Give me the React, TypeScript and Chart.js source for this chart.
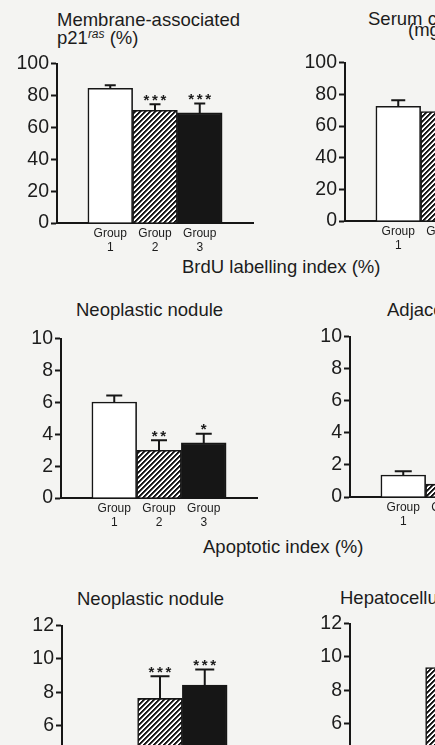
import React, { useEffect, useRef } from 'react';
import { Chart, registerables } from 'chart.js';

Chart.register(...registerables);
Chart.defaults.font.family = "'Liberation Sans', Arial, Helvetica, sans-serif";

// ---------- data ----------
const groupNames = ['1', '2', '3'];
const groupPositions = [1, 2, 3];

const membraneP21 = [84.6, 70.8, 69.1];
const membraneP21Err = [1.9, 3.8, 5.9];
const membraneP21Stars = ['', '***', '***'];

const serumCholesterol = [72.5, 69.2, 66.0];
const serumCholesterolErr = [3.8, 3.0, 3.5];
const serumCholesterolStars = ['', '', ''];

const brduNodule = [6.02, 3.0, 3.46];
const brduNoduleErr = [0.42, 0.63, 0.58];
const brduNoduleStars = ['', '**', '*'];

const brduAdjacent = [1.37, 0.8, 0.75];
const brduAdjacentErr = [0.23, 0.25, 0.2];
const brduAdjacentStars = ['', '***', '***'];

const apoptoticNodule = [2.0, 7.62, 8.42];
const apoptoticNoduleErr = [0.5, 1.34, 0.94];
const apoptoticNoduleStars = ['', '***', '***'];

const apoptoticHcc = [2.5, 9.36, 10.1];
const apoptoticHccErr = [0.6, 1.1, 1.0];
const apoptoticHccStars = ['', '***', '***'];

const ticks100 = [0, 20, 40, 60, 80, 100];
const ticks10 = [0, 2, 4, 6, 8, 10];
const ticks12 = [0, 2, 4, 6, 8, 10, 12];

const INK = '#161616';
const TEXT = '#1c1c1c';
const PAPER = '#f4f4f2';
const FONT = "'Liberation Sans', Arial, Helvetica, sans-serif";

function makeHatch(): CanvasPattern | string {
  const s = 5;
  const c = document.createElement('canvas');
  c.width = s;
  c.height = s;
  const g = c.getContext('2d');
  if (!g) return '#888';
  for (let y = 0; y < s; y++) {
    for (let x = 0; x < s; x++) {
      const k = (x + y) % s;
      g.fillStyle = k < 2 ? INK : k === 2 ? '#6a6a6a' : '#ffffff';
      g.fillRect(x, y, 1, 1);
    }
  }
  const p = g.createPattern(c, 'repeat');
  return p || '#888';
}

type PanelProps = {
  left: number;
  top: number;
  height: number;
  values: number[];
  errs: number[];
  stars: string[];
  yMax: number;
  yTicks: number[];
  capWidth: number;
};

const WIDTH = 258;
const Y_AXIS_W = 57;
const X_AXIS_H = 32;
const PAD_TOP = 13;

function Panel(props: PanelProps) {
  const ref = useRef<HTMLCanvasElement>(null);
  useEffect(() => {
    const canvas = ref.current;
    if (!canvas) return;
    const hatch = makeHatch();
    const errorPlugin = {
      id: 'errorBars',
      afterDatasetsDraw(chart: any) {
        const ctx = chart.ctx;
        const xs = chart.scales.x;
        const ys = chart.scales.y;
        ctx.save();
        ctx.strokeStyle = INK;
        ctx.fillStyle = TEXT;
        ctx.lineWidth = 2;
        props.values.forEach((v, i) => {
          const x = xs.getPixelForValue(groupPositions[i]);
          const y0 = ys.getPixelForValue(v);
          const y1 = ys.getPixelForValue(v + props.errs[i]);
          ctx.beginPath();
          ctx.moveTo(x, y0);
          ctx.lineTo(x, y1);
          ctx.moveTo(x - props.capWidth / 2, y1);
          ctx.lineTo(x + props.capWidth / 2, y1);
          ctx.stroke();
          const st = props.stars[i];
          if (st) {
            ctx.font = `bold 15px ${FONT}`;
            ctx.textAlign = 'center';
            ctx.textBaseline = 'alphabetic';
            const n = st.length;
            for (let k = 0; k < n; k++) {
              const sx = x + (k - (n - 1) / 2) * 8.5;
              ctx.fillText('*', sx, y1 + 0.5);
            }
          }
        });
        ctx.restore();
      },
    };
    const chart = new Chart(canvas, {
      type: 'bar',
      data: {
        datasets: [
          {
            data: props.values.map((v, i) => ({ x: groupPositions[i], y: v })),
            backgroundColor: ['#ffffff', hatch as any, INK],
            borderColor: INK,
            borderWidth: 1.6,
            barPercentage: 1,
            categoryPercentage: 1,
          },
        ],
      },
      options: {
        animation: false,
        responsive: false,
        events: [],
        layout: { padding: { top: PAD_TOP, right: 5, left: 0, bottom: 0 } },
        plugins: {
          legend: { display: false },
          tooltip: { enabled: false },
          title: { display: false },
        },
        scales: {
          x: {
            type: 'linear',
            min: -0.19,
            max: 4.19,
            offset: false,
            afterBuildTicks: (ax: any) => {
              ax.ticks = groupPositions.map((v) => ({ value: v }));
            },
            afterFit: (ax: any) => {
              ax.height = X_AXIS_H;
            },
            ticks: {
              callback: (_v: any, idx: number) => ['Group', groupNames[idx]],
              font: { size: 12 },
              color: TEXT,
              padding: 3,
              maxRotation: 0,
              autoSkip: false,
            },
            grid: { display: false, drawTicks: false, offset: false },
            border: { display: true, width: 2, color: INK },
          },
          y: {
            type: 'linear',
            min: 0,
            max: props.yMax,
            afterBuildTicks: (ax: any) => {
              ax.ticks = props.yTicks.map((v) => ({ value: v }));
            },
            afterFit: (ax: any) => {
              ax.width = Y_AXIS_W;
            },
            ticks: { font: { size: 19.5 }, color: TEXT, padding: 2 },
            grid: {
              drawOnChartArea: false,
              drawTicks: true,
              tickLength: 6,
              tickWidth: 2,
              color: INK,
            },
            border: { display: true, width: 2, color: INK },
          },
        },
      } as any,
      plugins: [errorPlugin],
    });
    return () => chart.destroy();
  }, []);
  return (
    <canvas
      ref={ref}
      width={WIDTH}
      height={props.height}
      style={{ position: 'absolute', left: props.left, top: props.top, width: WIDTH, height: props.height }}
    />
  );
}

const textStyle: React.CSSProperties = {
  position: 'absolute',
  fontFamily: FONT,
  fontSize: 18.5,
  lineHeight: '20px',
  color: TEXT,
  whiteSpace: 'nowrap',
  margin: 0,
};

function Label(props: { left: number; top: number; children: React.ReactNode; lh?: number }) {
  return (
    <div style={{ ...textStyle, left: props.left, top: props.top, lineHeight: `${props.lh || 20}px` }}>
      {props.children}
    </div>
  );
}

export default function App() {
  return (
    <div
      style={{
        position: 'absolute',
        left: 0,
        top: 0,
        width: 435,
        height: 745,
        overflow: 'hidden',
        background: PAPER,
      }}
    >
      <Label left={57} top={11.3} lh={18}>
        Membrane-associated
        <br />
        p21
        <span style={{ fontStyle: 'italic', fontSize: 12, position: 'relative', top: -6 }}>ras</span> (%)
      </Label>
      <Label left={368} top={8.6}>Serum cholesterol</Label>
      <Label left={408} top={19.6}>(mg/dl)</Label>

      <Panel left={0} top={50} height={205} values={membraneP21} errs={membraneP21Err} stars={membraneP21Stars} yMax={100} yTicks={ticks100} capWidth={11} />
      <Panel left={288} top={49} height={204} values={serumCholesterol} errs={serumCholesterolErr} stars={serumCholesterolStars} yMax={100} yTicks={ticks100} capWidth={14} />

      <Label left={182} top={256.6}>BrdU labelling index (%)</Label>
      <Label left={76} top={299.6}>Neoplastic nodule</Label>
      <Label left={387} top={299.6}>Adjacent liver</Label>

      <Panel left={4} top={325} height={205} values={brduNodule} errs={brduNoduleErr} stars={brduNoduleStars} yMax={10} yTicks={ticks10} capWidth={16} />
      <Panel left={293} top={323} height={206} values={brduAdjacent} errs={brduAdjacentErr} stars={brduAdjacentStars} yMax={10} yTicks={ticks10} capWidth={17} />

      <Label left={203} top={536.6}>Apoptotic index (%)</Label>
      <Label left={77} top={588.6}>Neoplastic nodule</Label>
      <Label left={340} top={587.6}>Hepatocellular carcinoma</Label>

      <Panel left={5} top={612} height={245} values={apoptoticNodule} errs={apoptoticNoduleErr} stars={apoptoticNoduleStars} yMax={12} yTicks={ticks12} capWidth={19} />
      <Panel left={293} top={610} height={245} values={apoptoticHcc} errs={apoptoticHccErr} stars={apoptoticHccStars} yMax={12} yTicks={ticks12} capWidth={18} />
    </div>
  );
}
